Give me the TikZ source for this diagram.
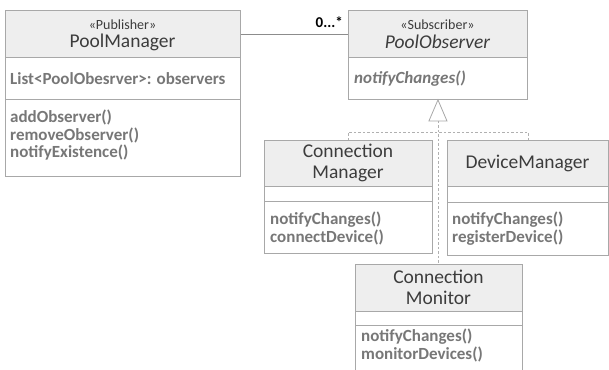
\documentclass[tikz,border=0pt]{standalone}
\usepackage{fontspec}
\setmainfont{Carlito}
\usetikzlibrary{calc}
\definecolor{boxc}{HTML}{A8A8A8}
\definecolor{hdrc}{HTML}{EEEEEE}
\definecolor{namec}{HTML}{3C3C3C}
\definecolor{memc}{HTML}{777777}
\definecolor{linec}{HTML}{8C8C8C}
\definecolor{dashc}{HTML}{B0B0B0}
\tikzset{
  hdr/.style={draw=boxc, fill=hdrc, line width=0.9pt, anchor=north west, inner sep=0pt},
  cmp/.style={draw=boxc, fill=white, line width=0.9pt, anchor=north west, inner sep=0pt},
  stereo/.style={text=namec, font=\fontsize{14}{15}\selectfont, inner sep=0pt},
  cname/.style={text=namec, font=\fontsize{19.5}{21}\selectfont, align=center, inner sep=0pt},
  mem/.style={text=memc, font=\bfseries\fontsize{17}{17.5}\selectfont, align=left, anchor=west, inner sep=0pt},
  assoc/.style={draw=linec, line width=0.8pt},
  realize/.style={draw=dashc, line width=0.8pt, dash pattern=on 2.5pt off 2pt},
}
\begin{document}
\begin{tikzpicture}[x=1pt,y=-1pt]
\useasboundingbox (0,0) rectangle (609,369);
\clip (0,0) rectangle (609,369);

% PoolManager
\node[hdr, minimum width=235, minimum height=47] (pmH) at (5,10) {};
\node[cmp, minimum width=235, minimum height=42] (pmA) at (5,57) {};
\node[cmp, minimum width=235, minimum height=77] (pmO) at (5,99) {};
\node[stereo] (pmS) at (122.5,25) {«Publisher»};
\node[cname] (pmN) at (122.5,42) {PoolManager};
\node[mem] (pmAt) at (10,79) {List<PoolObesrver>: observers};
\node[mem] (pmOp) at (10,135.5) {addObserver()\\removeObserver()\\notifyExistence()};

% PoolObserver
\node[hdr, minimum width=179, minimum height=47] (poH) at (348,10) {};
\node[cmp, minimum width=179, minimum height=42] (poO) at (348,57) {};
\node[stereo] (poS) at (437.5,25) {«Subscriber»};
\node[cname, font=\itshape\fontsize{19.5}{21}\selectfont] (poN) at (437.5,42) {PoolObserver};
\node[mem, font=\bfseries\itshape\fontsize{17}{17.5}\selectfont] (poOp) at (354,79) {notifyChanges()};

% ConnectionManager
\node[hdr, minimum width=168, minimum height=46] (cmH) at (264,140) {};
\node[cmp, minimum width=168, minimum height=15] (cmA) at (264,186) {};
\node[cmp, minimum width=168, minimum height=52] (cmO) at (264,201) {};
\node[cname] (cmN) at (348,163) {Connection\\Manager};
\node[mem] (cmOp) at (270,228.5) {notifyChanges()\\connectDevice()};

% DeviceManager
\node[hdr, minimum width=161, minimum height=46] (dmH) at (447,140) {};
\node[cmp, minimum width=161, minimum height=16] (dmA) at (447,186) {};
\node[cmp, minimum width=161, minimum height=53] (dmO) at (447,202) {};
\node[cname] (dmN) at (527.5,163) {DeviceManager};
\node[mem] (dmOp) at (452,228.5) {notifyChanges()\\registerDevice()};

% ConnectionMonitor
\node[hdr, minimum width=167, minimum height=47] (cmoH) at (355,264) {};
\node[cmp, minimum width=167, minimum height=14] (cmoA) at (355,311) {};
\node[cmp, minimum width=167, minimum height=60] (cmoO) at (355,325) {};
\node[cname] (cmoN) at (438.5,287.5) {Connection\\Monitor};
\node[mem] (cmoOp) at (361,345.5) {notifyChanges()\\monitorDevices()};

% association with multiplicity
\draw[assoc] (pmH.east) -- (poH.west);
\node[anchor=base east, inner sep=0pt, text=black, font=\bfseries\fontsize{15}{16}\selectfont] (mult) at (343,28) {0...*};

% realization arrows
\coordinate (apex) at (poO.south);
\coordinate (tbase) at ($(apex)+(0,21)$);
\coordinate (join) at ($(apex)+(0,32)$);
\draw[realize] (tbase) -- (tbase |- cmoH.north);
\draw[realize] (cmH.north) -- (cmH.north |- join) -- (dmH.north |- join) -- (dmH.north);
\draw[draw=boxc, fill=white, line width=0.8pt] (apex) -- ($(tbase)+(-9,0)$) -- ($(tbase)+(9,0)$) -- cycle;
\end{tikzpicture}
\end{document}
